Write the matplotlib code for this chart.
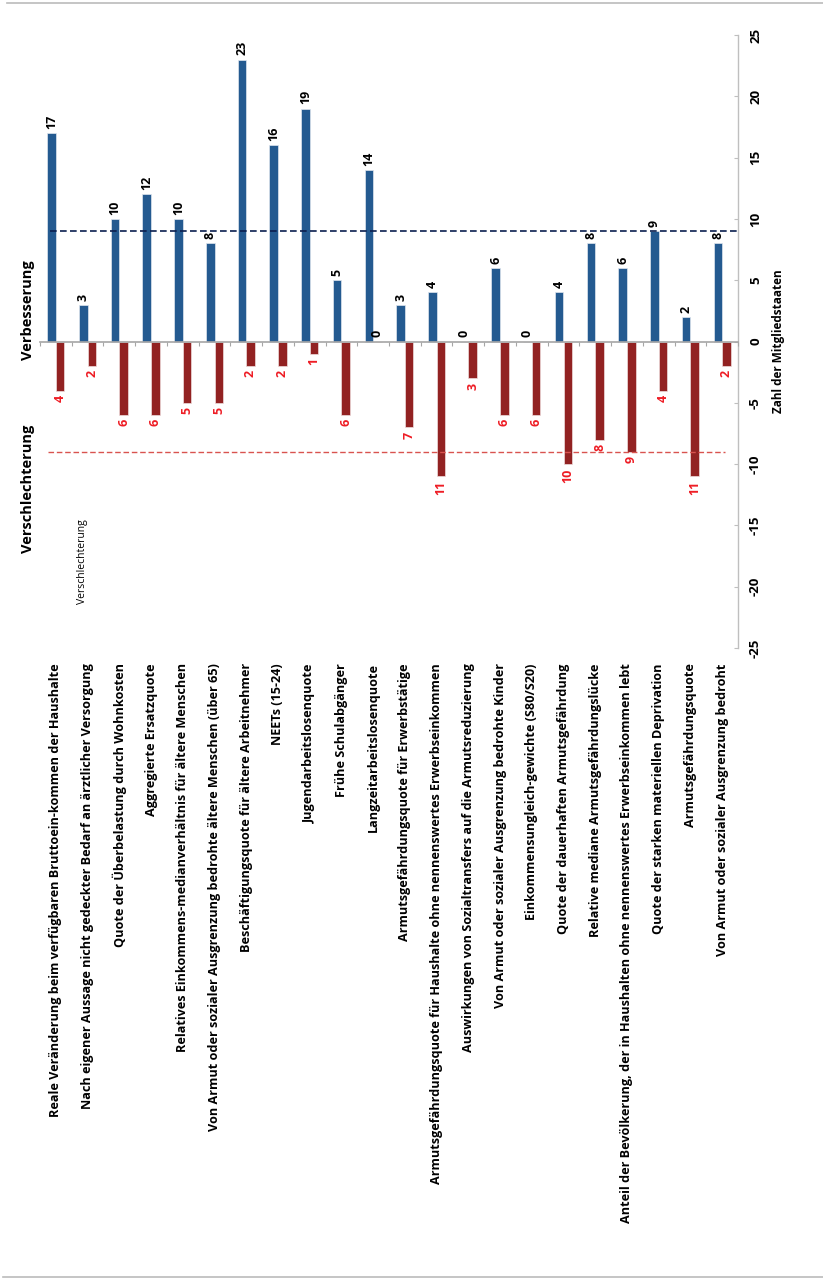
import numpy as np
import matplotlib
matplotlib.use("Agg")
import matplotlib.pyplot as plt
from matplotlib.lines import Line2D

plt.rcParams['font.family'] = ['Open Sans', 'DejaVu Sans']

# Indicators and number of member states with improvement / deterioration
categories = [
    "Reale Veränderung beim verfügbaren Bruttoein-kommen der Haushalte",
    "Nach eigener Aussage nicht gedeckter Bedarf an ärztlicher Versorgung",
    "Quote der Überbelastung durch Wohnkosten",
    "Aggregierte Ersatzquote",
    "Relatives Einkommens-medianverhältnis für ältere Menschen",
    "Von Armut oder sozialer Ausgrenzung bedrohte ältere Menschen (über 65)",
    "Beschäftigungsquote für ältere Arbeitnehmer",
    "NEETs (15-24)",
    "Jugendarbeitslosenquote",
    "Frühe Schulabgänger",
    "Langzeitarbeitslosenquote",
    "Armutsgefährdungsquote für Erwerbstätige",
    "Armutsgefährdungsquote für Haushalte ohne nennenswertes Erwerbseinkommen",
    "Auswirkungen von Sozialtransfers auf die Armutsreduzierung",
    "Von Armut oder sozialer Ausgrenzung bedrohte Kinder",
    "Einkommensungleich-gewichte (S80/S20)",
    "Quote der dauerhaften Armutsgefährdung",
    "Relative mediane Armutsgefährdungslücke",
    "Anteil der Bevölkerung, der in Haushalten ohne nennenswertes Erwerbseinkommen lebt",
    "Quote der starken materiellen Deprivation",
    "Armutsgefährdungsquote",
    "Von Armut oder sozialer Ausgrenzung bedroht",
]
improved = [17, 3, 10, 12, 10, 8, 23, 16, 19, 5, 14, 3, 4, 0, 6, 0, 4, 8, 6, 9, 2, 8]
worsened = [4, 2, 6, 6, 5, 5, 2, 2, 1, 6, 0, 7, 11, 3, 6, 6, 10, 8, 9, 4, 11, 2]
threshold_up = 9
threshold_down = 9
value_ticks = [25, 20, 15, 10, 5, 0, -5, -10, -15, -20, -25]

BLUE = "#245a90"
RED = "#922222"
LABEL_RED = "#ee1c24"
GRID_GRAY = "#bfbfbf"

W, H = 823, 1281
fig = plt.figure(figsize=(W / 100, H / 100), dpi=100)
ax = fig.add_axes([40 / W, 1 - 648 / H, 698 / W, 613 / H])

x = np.arange(1, len(categories) + 1)
bw = 0.27
ax.bar(x - bw / 2, improved, width=bw, color=BLUE, edgecolor="#dfe6ee", linewidth=0.5, zorder=3)
ax.bar(x + bw / 2, [-v for v in worsened], width=bw, color=RED, edgecolor="#eedddd", linewidth=0.5, zorder=3)

ax.set_xlim(0.5, len(categories) + 0.5)
ax.set_ylim(-25, 25)

# value labels
lab_kw = dict(rotation=90, ha="center", fontsize=9, fontweight="bold",
              textcoords="offset points", zorder=5)
for xi, v in zip(x, improved):
    ax.annotate(str(v), (xi - bw / 2, v), xytext=(0, 3), va="bottom", color="black", **lab_kw)
for xi, v in zip(x, worsened):
    if v == 0:
        ax.annotate(str(v), (xi + bw / 2, 0), xytext=(0, 3), va="bottom", color="black", **lab_kw)
    else:
        ax.annotate(str(v), (xi + bw / 2, -v), xytext=(0, -3), va="top", color=LABEL_RED, **lab_kw)

# reference lines
ax.hlines(threshold_up, 0.82, len(categories) + 0.5, colors="#0b1f4f", linestyles=(0, (4, 2)),
          linewidth=1.2, zorder=4)
ax.hlines(-threshold_down, 0.75, 22.1, colors="#d9534f", linestyles=(0, (4, 2)),
          linewidth=1.0, zorder=4)

# value axis on the right
for s in ["left", "top", "bottom"]:
    ax.spines[s].set_visible(False)
ax.spines["right"].set_color(GRID_GRAY)
ax.spines["right"].set_linewidth(1.0)
ax.yaxis.tick_right()
ax.set_yticks(value_ticks)
ax.set_yticklabels([str(t) for t in value_ticks], rotation=90, va="center",
                   fontsize=9.5, fontweight="bold")
ax.tick_params(axis="y", direction="in", length=3, color=GRID_GRAY, pad=8)

# category labels below the plot
ax.set_xticks(x)
ax.set_xticklabels(categories, rotation=90, ha="center", va="top", fontsize=9.1, fontweight="bold")
ax.tick_params(axis="x", length=0, pad=11)

# category axis along zero with boundary ticks
ax0 = ax.twiny()
ax0.set_xlim(ax.get_xlim())
for s in ["left", "top", "right"]:
    ax0.spines[s].set_visible(False)
ax0.spines["bottom"].set_position(("axes", 0.5))
ax0.spines["bottom"].set_color("#a6a6a6")
ax0.spines["bottom"].set_linewidth(1.2)
ax0.xaxis.set_ticks_position("bottom")
ax0.set_xticks(np.arange(0.5, len(categories) + 1, 1.0))
ax0.set_xticklabels([])
ax0.tick_params(axis="x", direction="out", length=3, color="#a6a6a6")
ax0.patch.set_visible(False)

ax.text((778 - 40) / 698, 0.5, "Zahl der Mitgliedstaaten", transform=ax.transAxes,
        rotation=90, ha="center", va="center", fontsize=8.5, fontweight="bold")

fig.text(28 / W, 1 - 310 / H, "Verbesserung", rotation=90, ha="center", va="center",
         fontsize=10.5, fontweight="bold")
fig.text(28 / W, 1 - 489 / H, "Verschlechterung", rotation=90, ha="center", va="center",
         fontsize=10.5, fontweight="bold")
fig.text(82 / W, 1 - 562 / H, "Verschlechterung", rotation=90, ha="center", va="center",
         fontsize=7.5)

# frame lines top and bottom
fig.add_artist(Line2D([7 / W, 1], [1 - 3 / H, 1 - 3 / H], color="#bbbbbb", linewidth=1.2))
fig.add_artist(Line2D([3 / W, 1], [1 - 1277 / H, 1 - 1277 / H], color="#bbbbbb", linewidth=1.2))

fig.savefig("out.png", dpi=100)
